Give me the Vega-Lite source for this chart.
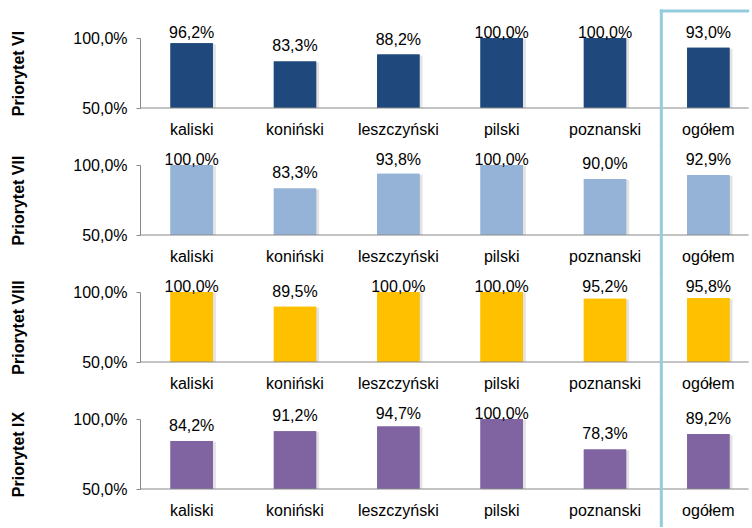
{
  "$schema": "https://vega.github.io/schema/vega-lite/v6.json",
  "padding": {"top": 8, "left": 10, "right": 0, "bottom": 0},
  "config": {
    "font": "Liberation Sans",
    "view": {"stroke": null},
    "locale": {"number": {"decimal": ",", "thousands": " ", "grouping": [3], "currency": ["", " zł"]}}
  },
  "data": {"values": [
    {"p": "VI", "powiat": "kaliski", "value": 0.962},
    {"p": "VI", "powiat": "koniński", "value": 0.833},
    {"p": "VI", "powiat": "leszczyński", "value": 0.882},
    {"p": "VI", "powiat": "pilski", "value": 1.0},
    {"p": "VI", "powiat": "poznanski", "value": 1.0},
    {"p": "VI", "powiat": "ogółem", "value": 0.93},
    {"p": "VII", "powiat": "kaliski", "value": 1.0},
    {"p": "VII", "powiat": "koniński", "value": 0.833},
    {"p": "VII", "powiat": "leszczyński", "value": 0.938},
    {"p": "VII", "powiat": "pilski", "value": 1.0},
    {"p": "VII", "powiat": "poznanski", "value": 0.9},
    {"p": "VII", "powiat": "ogółem", "value": 0.929},
    {"p": "VIII", "powiat": "kaliski", "value": 1.0},
    {"p": "VIII", "powiat": "koniński", "value": 0.895},
    {"p": "VIII", "powiat": "leszczyński", "value": 1.0},
    {"p": "VIII", "powiat": "pilski", "value": 1.0},
    {"p": "VIII", "powiat": "poznanski", "value": 0.952},
    {"p": "VIII", "powiat": "ogółem", "value": 0.958},
    {"p": "IX", "powiat": "kaliski", "value": 0.842},
    {"p": "IX", "powiat": "koniński", "value": 0.912},
    {"p": "IX", "powiat": "leszczyński", "value": 0.947},
    {"p": "IX", "powiat": "pilski", "value": 1.0},
    {"p": "IX", "powiat": "poznanski", "value": 0.783},
    {"p": "IX", "powiat": "ogółem", "value": 0.892}
  ]},
  "spacing": -3,
  "vconcat": [
    {
      "width": 605, "height": 70,
      "transform": [{"filter": "datum.p === 'VI'"}],
      "resolve": {"scale": {"y": "independent"}},
      "layer": [
        {"mark": {"type": "bar", "width": {"band": 0.41}, "color": "#1F497D"},
         "encoding": {
           "x": {"field": "powiat", "type": "nominal", "sort": ["kaliski", "koniński", "leszczyński", "pilski", "poznanski", "ogółem"], "scale": {"range": [0, 620], "paddingInner": 0, "paddingOuter": 0}, "axis": {"title": null, "labelAngle": 0, "labelFontSize": 16, "labelColor": "#000000", "ticks": false, "domain": false, "labelPadding": 13}},
           "y": {"field": "value", "type": "quantitative", "scale": {"domain": [0.5, 1]}, "axis": {"values": [0.5, 1], "format": ".1%", "grid": false, "domain": true, "labelFontSize": 16, "labelColor": "#000000", "domainColor": "#888888", "tickColor": "#888888", "tickSize": 4, "labelPadding": 9, "title": "Priorytet VI", "titleFontSize": 16, "titleFontWeight": "bold", "titleColor": "#000000", "titlePadding": 46}},
           "y2": {"datum": 0.5}}},
        {"mark": {"type": "bar", "width": {"band": 0.41}, "color": "#7F7F7F", "opacity": 0.22, "xOffset": 3, "yOffset": 1},
         "encoding": {
           "x": {"field": "powiat", "type": "nominal", "sort": ["kaliski", "koniński", "leszczyński", "pilski", "poznanski", "ogółem"]},
           "y": {"field": "value", "type": "quantitative", "scale": {"domain": [0.5, 1]}, "axis": null},
           "y2": {"datum": 0.5}}},
        {"mark": {"type": "bar", "width": {"band": 0.41}, "color": "#1F497D"},
         "encoding": {
           "x": {"field": "powiat", "type": "nominal", "sort": ["kaliski", "koniński", "leszczyński", "pilski", "poznanski", "ogółem"]},
           "y": {"field": "value", "type": "quantitative", "scale": {"domain": [0.5, 1]}, "axis": null},
           "y2": {"datum": 0.5}}},
        {"data": {"values": [{}]}, "mark": {"type": "rule", "color": "#888888", "strokeWidth": 1},
         "encoding": {
           "x": {"datum": "kaliski", "bandPosition": 0},
           "x2": {"datum": "ogółem", "bandPosition": 0.89},
           "y": {"datum": 0.5, "scale": {"domain": [0.5, 1]}, "axis": null}}},
        {"data": {"values": [{}]}, "mark": {"type": "rule", "color": "#93CDDD", "strokeWidth": 3, "strokeCap": "square"},
         "encoding": {
           "x": {"datum": "ogółem", "bandPosition": 0.045},
           "y": {"datum": 0.2393, "scale": {"domain": [0.5, 1]}, "axis": null},
           "y2": {"datum": 1.1929}}},
        {"data": {"values": [{}]}, "mark": {"type": "rule", "color": "#93CDDD", "strokeWidth": 3, "strokeCap": "square"},
         "encoding": {
           "x": {"datum": "ogółem", "bandPosition": 0.045},
           "x2": {"datum": "ogółem", "bandPosition": 0.88},
           "y": {"datum": 1.1929, "scale": {"domain": [0.5, 1]}, "axis": null}}},
        {"mark": {"type": "text", "fontSize": 16, "baseline": "middle", "dy": -5, "color": "#000000"},
         "encoding": {
           "x": {"field": "powiat", "type": "nominal", "sort": ["kaliski", "koniński", "leszczyński", "pilski", "poznanski", "ogółem"]},
           "y": {"field": "value", "type": "quantitative", "scale": {"domain": [0.4286, 0.9286], "clamp": true}, "axis": null},
           "text": {"field": "value", "type": "quantitative", "format": ".1%"}}}
      ]
    },
    {
      "width": 605, "height": 70,
      "transform": [{"filter": "datum.p === 'VII'"}],
      "resolve": {"scale": {"y": "independent"}},
      "layer": [
        {"mark": {"type": "bar", "width": {"band": 0.41}, "color": "#95B3D7"},
         "encoding": {
           "x": {"field": "powiat", "type": "nominal", "sort": ["kaliski", "koniński", "leszczyński", "pilski", "poznanski", "ogółem"], "scale": {"range": [0, 620], "paddingInner": 0, "paddingOuter": 0}, "axis": {"title": null, "labelAngle": 0, "labelFontSize": 16, "labelColor": "#000000", "ticks": false, "domain": false, "labelPadding": 13}},
           "y": {"field": "value", "type": "quantitative", "scale": {"domain": [0.5, 1]}, "axis": {"values": [0.5, 1], "format": ".1%", "grid": false, "domain": true, "labelFontSize": 16, "labelColor": "#000000", "domainColor": "#888888", "tickColor": "#888888", "tickSize": 4, "labelPadding": 9, "title": "Priorytet VII", "titleFontSize": 16, "titleFontWeight": "bold", "titleColor": "#000000", "titlePadding": 46}},
           "y2": {"datum": 0.5}}},
        {"mark": {"type": "bar", "width": {"band": 0.41}, "color": "#7F7F7F", "opacity": 0.22, "xOffset": 3, "yOffset": 1},
         "encoding": {
           "x": {"field": "powiat", "type": "nominal", "sort": ["kaliski", "koniński", "leszczyński", "pilski", "poznanski", "ogółem"]},
           "y": {"field": "value", "type": "quantitative", "scale": {"domain": [0.5, 1]}, "axis": null},
           "y2": {"datum": 0.5}}},
        {"mark": {"type": "bar", "width": {"band": 0.41}, "color": "#95B3D7"},
         "encoding": {
           "x": {"field": "powiat", "type": "nominal", "sort": ["kaliski", "koniński", "leszczyński", "pilski", "poznanski", "ogółem"]},
           "y": {"field": "value", "type": "quantitative", "scale": {"domain": [0.5, 1]}, "axis": null},
           "y2": {"datum": 0.5}}},
        {"data": {"values": [{}]}, "mark": {"type": "rule", "color": "#888888", "strokeWidth": 1},
         "encoding": {
           "x": {"datum": "kaliski", "bandPosition": 0},
           "x2": {"datum": "ogółem", "bandPosition": 0.89},
           "y": {"datum": 0.5, "scale": {"domain": [0.5, 1]}, "axis": null}}},
        {"data": {"values": [{}]}, "mark": {"type": "rule", "color": "#93CDDD", "strokeWidth": 3, "strokeCap": "square"},
         "encoding": {
           "x": {"datum": "ogółem", "bandPosition": 0.045},
           "y": {"datum": 0.2393, "scale": {"domain": [0.5, 1]}, "axis": null},
           "y2": {"datum": 1.1321}}},
        {"mark": {"type": "text", "fontSize": 16, "baseline": "middle", "dy": -5, "color": "#000000"},
         "encoding": {
           "x": {"field": "powiat", "type": "nominal", "sort": ["kaliski", "koniński", "leszczyński", "pilski", "poznanski", "ogółem"]},
           "y": {"field": "value", "type": "quantitative", "scale": {"domain": [0.4286, 0.9286], "clamp": true}, "axis": null},
           "text": {"field": "value", "type": "quantitative", "format": ".1%"}}}
      ]
    },
    {
      "width": 605, "height": 70,
      "transform": [{"filter": "datum.p === 'VIII'"}],
      "resolve": {"scale": {"y": "independent"}},
      "layer": [
        {"mark": {"type": "bar", "width": {"band": 0.41}, "color": "#FFC000"},
         "encoding": {
           "x": {"field": "powiat", "type": "nominal", "sort": ["kaliski", "koniński", "leszczyński", "pilski", "poznanski", "ogółem"], "scale": {"range": [0, 620], "paddingInner": 0, "paddingOuter": 0}, "axis": {"title": null, "labelAngle": 0, "labelFontSize": 16, "labelColor": "#000000", "ticks": false, "domain": false, "labelPadding": 13}},
           "y": {"field": "value", "type": "quantitative", "scale": {"domain": [0.5, 1]}, "axis": {"values": [0.5, 1], "format": ".1%", "grid": false, "domain": true, "labelFontSize": 16, "labelColor": "#000000", "domainColor": "#888888", "tickColor": "#888888", "tickSize": 4, "labelPadding": 9, "title": "Priorytet VIII", "titleFontSize": 16, "titleFontWeight": "bold", "titleColor": "#000000", "titlePadding": 46}},
           "y2": {"datum": 0.5}}},
        {"mark": {"type": "bar", "width": {"band": 0.41}, "color": "#7F7F7F", "opacity": 0.22, "xOffset": 3, "yOffset": 1},
         "encoding": {
           "x": {"field": "powiat", "type": "nominal", "sort": ["kaliski", "koniński", "leszczyński", "pilski", "poznanski", "ogółem"]},
           "y": {"field": "value", "type": "quantitative", "scale": {"domain": [0.5, 1]}, "axis": null},
           "y2": {"datum": 0.5}}},
        {"mark": {"type": "bar", "width": {"band": 0.41}, "color": "#FFC000"},
         "encoding": {
           "x": {"field": "powiat", "type": "nominal", "sort": ["kaliski", "koniński", "leszczyński", "pilski", "poznanski", "ogółem"]},
           "y": {"field": "value", "type": "quantitative", "scale": {"domain": [0.5, 1]}, "axis": null},
           "y2": {"datum": 0.5}}},
        {"data": {"values": [{}]}, "mark": {"type": "rule", "color": "#888888", "strokeWidth": 1},
         "encoding": {
           "x": {"datum": "kaliski", "bandPosition": 0},
           "x2": {"datum": "ogółem", "bandPosition": 0.89},
           "y": {"datum": 0.5, "scale": {"domain": [0.5, 1]}, "axis": null}}},
        {"data": {"values": [{}]}, "mark": {"type": "rule", "color": "#93CDDD", "strokeWidth": 3, "strokeCap": "square"},
         "encoding": {
           "x": {"datum": "ogółem", "bandPosition": 0.045},
           "y": {"datum": 0.2393, "scale": {"domain": [0.5, 1]}, "axis": null},
           "y2": {"datum": 1.1321}}},
        {"mark": {"type": "text", "fontSize": 16, "baseline": "middle", "dy": -5, "color": "#000000"},
         "encoding": {
           "x": {"field": "powiat", "type": "nominal", "sort": ["kaliski", "koniński", "leszczyński", "pilski", "poznanski", "ogółem"]},
           "y": {"field": "value", "type": "quantitative", "scale": {"domain": [0.4286, 0.9286], "clamp": true}, "axis": null},
           "text": {"field": "value", "type": "quantitative", "format": ".1%"}}}
      ]
    },
    {
      "width": 605, "height": 70,
      "transform": [{"filter": "datum.p === 'IX'"}],
      "resolve": {"scale": {"y": "independent"}},
      "layer": [
        {"mark": {"type": "bar", "width": {"band": 0.41}, "color": "#8064A2"},
         "encoding": {
           "x": {"field": "powiat", "type": "nominal", "sort": ["kaliski", "koniński", "leszczyński", "pilski", "poznanski", "ogółem"], "scale": {"range": [0, 620], "paddingInner": 0, "paddingOuter": 0}, "axis": {"title": null, "labelAngle": 0, "labelFontSize": 16, "labelColor": "#000000", "ticks": false, "domain": false, "labelPadding": 13}},
           "y": {"field": "value", "type": "quantitative", "scale": {"domain": [0.5, 1]}, "axis": {"values": [0.5, 1], "format": ".1%", "grid": false, "domain": true, "labelFontSize": 16, "labelColor": "#000000", "domainColor": "#888888", "tickColor": "#888888", "tickSize": 4, "labelPadding": 9, "title": "Priorytet IX", "titleFontSize": 16, "titleFontWeight": "bold", "titleColor": "#000000", "titlePadding": 46}},
           "y2": {"datum": 0.5}}},
        {"mark": {"type": "bar", "width": {"band": 0.41}, "color": "#7F7F7F", "opacity": 0.22, "xOffset": 3, "yOffset": 1},
         "encoding": {
           "x": {"field": "powiat", "type": "nominal", "sort": ["kaliski", "koniński", "leszczyński", "pilski", "poznanski", "ogółem"]},
           "y": {"field": "value", "type": "quantitative", "scale": {"domain": [0.5, 1]}, "axis": null},
           "y2": {"datum": 0.5}}},
        {"mark": {"type": "bar", "width": {"band": 0.41}, "color": "#8064A2"},
         "encoding": {
           "x": {"field": "powiat", "type": "nominal", "sort": ["kaliski", "koniński", "leszczyński", "pilski", "poznanski", "ogółem"]},
           "y": {"field": "value", "type": "quantitative", "scale": {"domain": [0.5, 1]}, "axis": null},
           "y2": {"datum": 0.5}}},
        {"data": {"values": [{}]}, "mark": {"type": "rule", "color": "#888888", "strokeWidth": 1},
         "encoding": {
           "x": {"datum": "kaliski", "bandPosition": 0},
           "x2": {"datum": "ogółem", "bandPosition": 0.89},
           "y": {"datum": 0.5, "scale": {"domain": [0.5, 1]}, "axis": null}}},
        {"data": {"values": [{}]}, "mark": {"type": "rule", "color": "#93CDDD", "strokeWidth": 3, "strokeCap": "square"},
         "encoding": {
           "x": {"datum": "ogółem", "bandPosition": 0.045},
           "y": {"datum": 0.2393, "scale": {"domain": [0.5, 1]}, "axis": null},
           "y2": {"datum": 1.1321}}},
        {"mark": {"type": "text", "fontSize": 16, "baseline": "middle", "dy": -5, "color": "#000000"},
         "encoding": {
           "x": {"field": "powiat", "type": "nominal", "sort": ["kaliski", "koniński", "leszczyński", "pilski", "poznanski", "ogółem"]},
           "y": {"field": "value", "type": "quantitative", "scale": {"domain": [0.4286, 0.9286], "clamp": true}, "axis": null},
           "text": {"field": "value", "type": "quantitative", "format": ".1%"}}}
      ]
    }
  ]
}
